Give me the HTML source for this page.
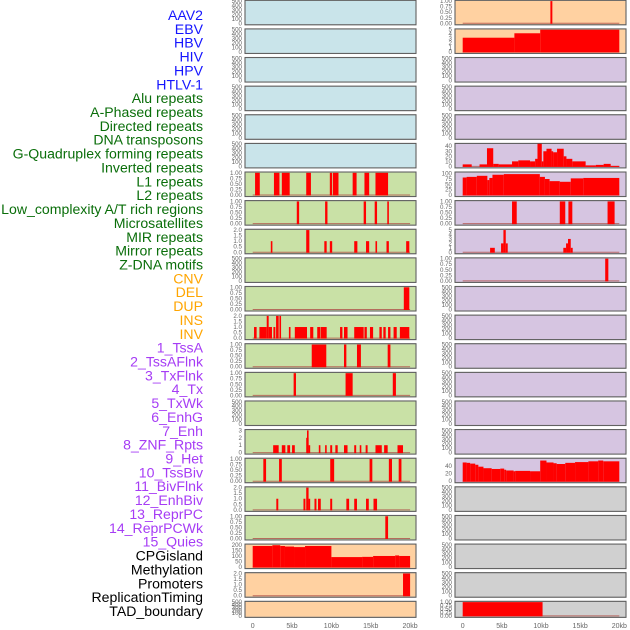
<!DOCTYPE html>
<html><head><meta charset="utf-8"><style>
html,body{margin:0;padding:0;background:#fff;width:630px;height:630px;overflow:hidden}
svg{display:block;font-family:"Liberation Sans",sans-serif}
</style></head><body>
<svg id="chart" width="630" height="630" viewBox="0 0 630 630" xmlns="http://www.w3.org/2000/svg"></svg>
<script>
// ---- track labels ----
const trackLabels = ["AAV2","EBV","HBV","HIV","HPV","HTLV-1","Alu repeats","A-Phased repeats","Directed repeats","DNA transposons","G-Quadruplex forming repeats","Inverted repeats","L1 repeats","L2 repeats","Low_complexity A/T rich regions","Microsatellites","MIR repeats","Mirror repeats","Z-DNA motifs","CNV","DEL","DUP","INS","INV","1_TssA","2_TssAFlnk","3_TxFlnk","4_Tx","5_TxWk","6_EnhG","7_Enh","8_ZNF_Rpts","9_Het","10_TssBiv","11_BivFlnk","12_EnhBiv","13_ReprPC","14_ReprPCWk","15_Quies","CPGisland","Methylation","Promoters","ReplicationTiming","TAD_boundary"];
const labelGroups = [6,13,5,15,5];
const xTickValues = [0,5,10,15,20];
const xTickLabels = ["0","5kb","10kb","15kb","20kb"];

// ---- tick sets ----
const ticks500 = [0,100,200,300,400,500];
const ticks1 = [0,0.25,0.5,0.75,1];
const ticks2 = [0,0.5,1,1.5,2];
const ticks3 = [0,1,2,3];
const ticks5 = [0,1,2,3,4,5];
const ticks40 = [0,10,20,30,40];
const ticks100 = [0,25,50,75,100];
const ticks200 = [0,50,100,150,200];
const ticks2040 = [0,20,40];

// ---- series data: [startKb, endKb, value] ----
const leftRow6 = [[0.3,0.9,1],[2.7,3.4,1],[3.7,4.7,1],[6.8,7.4,1],[9.8,10.1,1],[10.2,10.9,1],[12.7,13.2,1],[14.2,14.8,1],[15.6,17.2,1]];
const leftRow7 = [[5.6,5.9,1],[9.2,9.5,1],[14.1,14.4,1],[15.5,15.8,1],[17.1,17.3,1]];
const leftRow8 = [[2.3,2.5,1],[6.8,7.2,2],[9.1,9.4,1],[9.8,10.1,1],[12.9,13.3,1],[14.4,14.8,1],[15.6,15.8,1],[17.0,17.3,1],[19.5,19.9,1]];
const leftRow10 = [[19.2,19.9,1]];
const leftRow11 = [[0.17,0.5,1],[0.85,1.78,1],[1.78,2.03,2],[2.03,2.45,1],[2.63,2.88,1],[2.97,3.3,2],[3.4,3.55,2],[4.6,4.8,1],[5.35,6.9,1],[7.3,7.7,1],[8.2,8.6,1],[8.66,9.4,1],[11.1,11.4,1],[11.6,12.05,1],[12.9,14.1,1],[14.2,14.5,1],[14.9,15.3,1],[16.1,16.4,1],[16.6,16.9,1],[17.2,17.5,1],[17.9,18.3,1],[18.7,19.9,1]];
const leftRow12 = [[7.5,9.35,1],[11.6,11.9,1],[13.25,13.75,1],[17.15,17.5,1]];
const leftRow13 = [[5.2,5.5,1],[11.8,12.7,1],[17.8,18.2,1]];
const leftRow15 = [[2.6,3.3,1],[3.7,4.15,1],[4.4,4.75,1],[5.0,5.35,1],[6.8,7.1,2],[6.9,7.0,3],[7.1,7.25,1],[8.4,8.6,1],[9.2,9.4,1],[9.85,10.1,1],[10.5,10.8,1],[11.6,12.05,1],[12.9,13.15,1],[13.6,13.8,1],[14.35,14.6,1],[15.6,16.4,1],[16.7,17.15,1],[18.4,19.1,1]];
const leftRow16 = [[1.35,1.7,1],[3.35,3.7,1],[9.85,10.35,1],[14.85,15.2,1],[17.3,17.7,1],[18.55,18.9,1]];
const leftRow17 = [[3.0,3.25,1],[6.45,6.7,1],[6.8,7.1,2],[7.1,7.25,1],[7.85,8.1,1],[8.3,8.65,1],[9.85,10.1,1],[11.9,12.25,1],[12.9,13.25,1],[14.4,14.75,1],[15.35,15.8,1]];
const leftRow18 = [[16.85,17.2,1]];
const leftRow19 = [[0,2.5,190],[2.5,3.5,197],[3.5,4.1,190],[4.1,5.25,185],[5.25,6.65,180],[6.65,10.0,190],[10.0,13.9,90],[13.9,15.3,92],[15.3,18.1,100],[18.1,18.6,105],[18.6,20,100]];
const leftRow20 = [[19.1,20.0,2]];
const rightRow0 = [[11.2,11.45,1]];
const rightRow1 = [[0,6.6,3.2],[6.6,9.9,4.2],[9.9,20,5]];
const rightRow5 = [[0,1.15,4],[2.15,3.1,4],[3.1,3.9,36],[3.9,4.6,5],[4.6,6.3,4],[6.3,7.1,10],[7.1,8.6,12],[8.6,9.25,10],[9.25,9.55,15],[9.55,10.1,46],[10.1,10.3,10],[10.3,10.7,30],[10.7,11.35,35],[11.35,11.55,30],[11.55,12.05,28],[12.05,12.9,35],[12.9,13.25,20],[13.25,14.0,15],[14.0,15.7,10],[15.7,17.0,2],[17.0,18.0,3],[18.0,18.9,5],[18.9,20,1]];
const rightRow6 = [[0,0.5,82],[0.5,1.8,85],[1.8,3.15,90],[3.15,3.4,70],[3.4,3.8,80],[3.8,5.25,95],[5.25,9.85,98],[9.85,10.5,85],[10.5,11.1,75],[11.1,12.4,65],[12.4,13.8,62],[13.8,15.4,78],[15.4,20,80]];
const rightRow7 = [[6.3,6.9,1],[12.4,13.1,1],[13.5,14.0,1],[18.5,19.4,1]];
const rightRow8 = [[3.5,4.1,1],[4.9,5.2,2],[5.2,5.5,5],[5.5,5.75,2],[12.85,13.2,1],[13.2,13.45,2],[13.45,13.8,3],[13.8,14.05,1]];
const rightRow9 = [[18.2,18.6,1]];
const rightRow16 = [[0,0.5,49],[0.5,0.95,48],[0.95,1.6,46],[1.6,2.0,43],[2.0,2.65,38],[2.65,3.7,34],[3.7,4.8,32],[4.8,5.3,33],[5.3,5.55,30],[5.55,6.5,28],[6.5,6.7,26],[6.7,8.6,27],[8.6,9.9,26],[9.9,10.7,54],[10.7,11.6,49],[11.6,12.0,47],[12.0,13.1,45],[13.1,14.35,48],[14.35,16.05,50],[16.05,17.3,52],[17.3,17.95,54],[17.95,20,52]];
const rightRow21 = [[0,10.2,1]];

const C_BLUE="#c9e4ea",C_GREEN="#c9e1a6",C_ORANGE="#ffd1a1",C_PURPLE="#d6c5e1",C_GRAY="#d0d0d0";
function L(i){ if(i<6) return C_BLUE; if(i<19) return C_GREEN; return C_ORANGE; }
function R(i){ if(i<2) return C_ORANGE; if(i<17) return C_PURPLE; return C_GRAY; }
const leftTicks = [ticks500,ticks500,ticks500,ticks500,ticks500,ticks500,ticks1,ticks1,ticks2,ticks500,ticks1,ticks2,ticks1,ticks1,ticks500,ticks3,ticks1,ticks2,ticks1,ticks200,ticks2,ticks500];
const leftMax = [500,500,500,500,500,500,1,1,2,500,1,2,1,1,500,3,1,2,1,200,2,500];
const leftData = [null,null,null,null,null,null,leftRow6,leftRow7,leftRow8,null,leftRow10,leftRow11,leftRow12,leftRow13,null,leftRow15,leftRow16,leftRow17,leftRow18,leftRow19,leftRow20,null];
const rightTicks = [ticks1,ticks5,ticks500,ticks500,ticks500,ticks40,ticks100,ticks1,ticks5,ticks1,ticks500,ticks500,ticks500,ticks500,ticks500,ticks500,ticks2040,ticks500,ticks500,ticks500,ticks500,ticks1];
const rightMax = [1,5,500,500,500,44,104,1,5,1,500,500,500,500,500,500,58,500,500,500,500,1];
const rightData = [rightRow0,rightRow1,null,null,null,rightRow5,rightRow6,rightRow7,rightRow8,rightRow9,null,null,null,null,null,null,rightRow16,null,null,null,null,rightRow21];

const NS="http://www.w3.org/2000/svg";
const svg=document.getElementById('chart');
function mk(tag,attrs,parent){const e=document.createElementNS(NS,tag);for(const k in attrs)e.setAttribute(k,attrs[k]);(parent||svg).appendChild(e);return e;}

// labels
const groupColors=["#1515ff","#0a6e0a","#ffa500","#a63cf5","#000000"];
let gi=0,gc=0;
trackLabels.forEach((t,i)=>{
  const tx=mk('text',{x:203,y:(20+i*13.86).toFixed(1),'text-anchor':'end','font-size':'14.1',fill:groupColors[gi]});
  tx.textContent=t;
  
  
  gc++; if(gc>=labelGroups[gi]){gi++;gc=0;}
});

function fmt(v,ts){
  const step=ts[1]-ts[0];
  if(step===0.25) return v.toFixed(2);
  if(step===0.5) return v.toFixed(1);
  return String(v);
}
function panel(col,row,bg,ts,ymax,data){
  const px= col===0?245:455;
  const x0kb= col===0?252.7:462.7;
  const pxPerKb= col===0?7.87:7.83;
  const top=row*28.62+0.3;
  const h= row===21?16:24.5;
  const w=171;
  const xs=kb=>x0kb+kb*pxPerKb;
  const base=top+h-1.5, yTop=top+0.8;
  const ys=v=>base-(v/ymax)*(base-yTop);
  const g=mk('g',{});
  
  
  mk('rect',{x:px,y:top,width:w,height:h,fill:bg,stroke:'#9a9a9a','stroke-width':1.2},g);
  if(data){
    mk('line',{x1:xs(0),x2:xs(20),y1:base,y2:base,stroke:'#b0504a','stroke-width':1,'stroke-opacity':0.8},g);
    data.forEach(d=>{
      const x1=xs(d[0]),x2=xs(d[1]);
      const r=mk('rect',{x:x1,y:ys(d[2]),width:Math.max(1.6,x2-x1),height:base-ys(d[2])+0.5,fill:'#ff0000'},g);
      
      
    });
  }
  mk('rect',{x:px,y:top,width:w,height:h,fill:'none',stroke:'#555','stroke-width':0.8},g);
  ts.forEach(v=>{
    const tx=mk('text',{x:px-3,y:(ys(v)+2).toFixed(1),'text-anchor':'end','font-size':'6.2',fill:'#666'},g);
    tx.textContent=fmt(v,ts);
    
    
  });
}
for(let r=0;r<22;r++){
  panel(0,r,L(r),leftTicks[r],leftMax[r],leftData[r]);
  panel(1,r,R(r),rightTicks[r],rightMax[r],rightData[r]);
}
// x axes
[[252.7,7.87],[462.7,7.83]].forEach(([x0,s],ci)=>{
  xTickValues.forEach((v,i)=>{
    const tx=mk('text',{x:x0+v*s,y:628,'text-anchor':'middle','font-size':'7',fill:'#666'});
    tx.textContent=xTickLabels[i];
    
    
  });
});
</script>
</body></html>
